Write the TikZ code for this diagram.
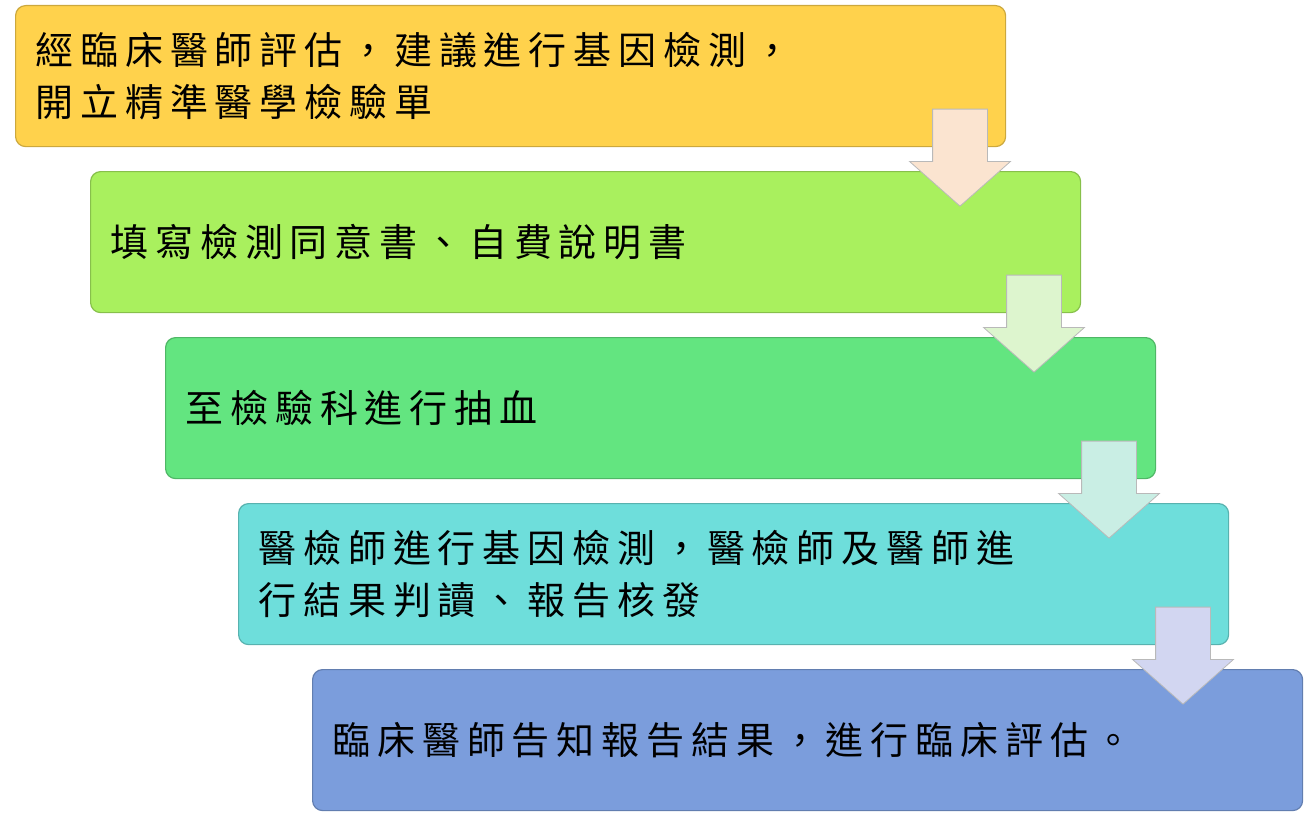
\documentclass[tikz,border=0pt]{standalone}
\usepackage{fontspec}
\newfontfamily\cjk[LetterSpace=18]{Noto Sans CJK TC}
\usetikzlibrary{shapes.arrows, positioning, calc}

\definecolor{boxyellow}{HTML}{FFD24C}
\definecolor{boxlime}{HTML}{A9F05E}
\definecolor{boxgreen}{HTML}{63E580}
\definecolor{boxcyan}{HTML}{6EDEDB}
\definecolor{boxblue}{HTML}{7B9DDC}
\definecolor{arrpeach}{HTML}{FBE4D0}
\definecolor{arrlime}{HTML}{DDF5CE}
\definecolor{arrmint}{HTML}{C9EEE4}
\definecolor{arrlav}{HTML}{D2D6F1}

\begin{document}
\begin{tikzpicture}[
    x=1pt, y=-1pt,
    stepbox/.style={draw=#1!80!black, fill=#1, line width=1.2pt, rounded corners=10pt,
        anchor=north west, minimum width=990pt, minimum height=141pt,
        inner xsep=20pt, text width=950pt, align=left,
        font=\cjk\fontsize{38}{52}\selectfont},
    downarrow/.style={single arrow, draw=gray!55, fill=#1, line width=0.8pt,
        shape border rotate=270, minimum height=97pt, inner sep=27pt,
        single arrow head extend=23pt, single arrow tip angle=97}
]
\useasboundingbox (0,0) rectangle (1307,816);

% steps
\node[stepbox=boxyellow] (s1) at (15,5) {經臨床醫師評估，建議進行基因檢測，\\開立精準醫學檢驗單};
\node[stepbox=boxlime] (s2) at (90,171) {填寫檢測同意書、自費說明書};
\node[stepbox=boxgreen] (s3) at (165,337) {至檢驗科進行抽血};
\node[stepbox=boxcyan] (s4) at (238,503) {醫檢師進行基因檢測，醫檢師及醫師進\\行結果判讀、報告核發};
\node[stepbox=boxblue] (s5) at (312,669) {臨床醫師告知報告結果，進行臨床評估。};

% arrows between steps
\node[downarrow=arrpeach] (a1) at (960,145.5) {};
\node[downarrow=arrlime] (a2) at (1034,311.5) {};
\node[downarrow=arrmint] (a3) at (1109,477.5) {};
\node[downarrow=arrlav] (a4) at (1183,643.5) {};

\end{tikzpicture}
\end{document}
